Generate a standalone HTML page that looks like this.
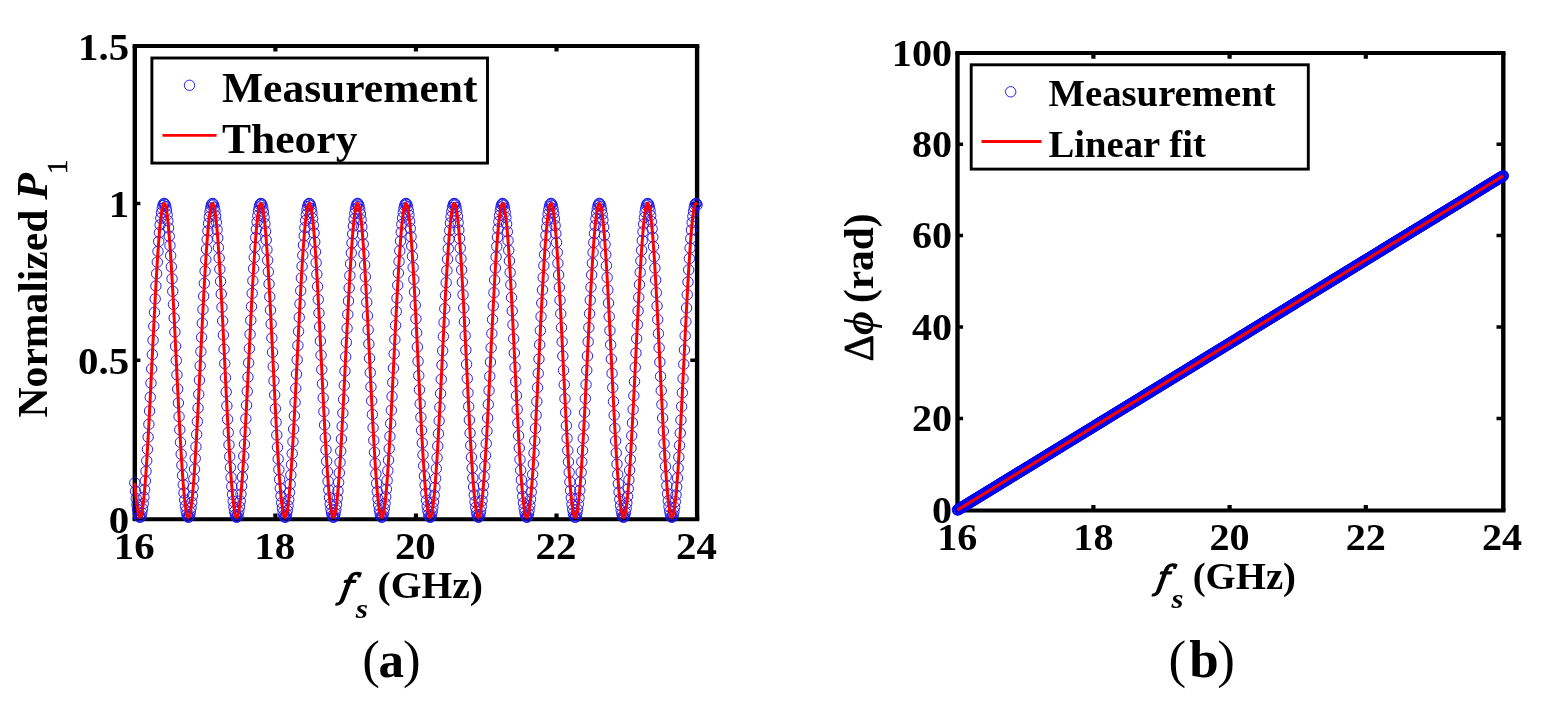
<!DOCTYPE html>
<html lang="en"><head><meta charset="utf-8"><title>Figure</title>
<style>html,body{margin:0;padding:0;background:#fff;}body{width:1554px;height:713px;overflow:hidden;}svg{display:block;}</style>
</head><body>
<svg width="1554" height="713" viewBox="0 0 1554 713" font-family='"Liberation Serif", serif' font-weight="bold" fill="#000">
<defs><marker id="mk" markerUnits="userSpaceOnUse" markerWidth="14" markerHeight="14" refX="7" refY="7" viewBox="0 0 14 14" overflow="visible"><circle cx="7" cy="7" r="5.2" fill="none" stroke="#1a14ea" stroke-width="0.95"/></marker><marker id="mkb" markerUnits="userSpaceOnUse" markerWidth="14" markerHeight="14" refX="7" refY="7" viewBox="0 0 14 14" overflow="visible"><circle cx="7" cy="7" r="5.2" fill="none" stroke="#0000f2" stroke-width="1.05"/></marker></defs>
<rect x="0" y="0" width="1554" height="713" fill="#fff"/>
<g id="plot-a">
<path d="M132.6 45.9H699.3M132.6 519.2H699.3" stroke="#000" stroke-width="4.0" fill="none"/>
<path d="M134.8 45.9V519.2M697.1 45.9V519.2" stroke="#000" stroke-width="4.4" fill="none"/>
<path d="M275.38 519.2v-5.6M275.38 45.9v5.6M415.95 519.2v-5.6M415.95 45.9v5.6M556.52 519.2v-5.6M556.52 45.9v5.6" stroke="#000" stroke-width="4.2" fill="none"/>
<path d="M134.8 360.35h5.6M697.1 360.35h-6.8M134.8 203.4h5.6M697.1 203.4h-6.8" stroke="#000" stroke-width="3.5" fill="none"/>
<polyline points="134.8,482.81 135.5,491.25 136.21,498.6 136.91,504.8 137.61,509.8 138.31,513.55 139.02,516.02 139.72,517.2 140.42,517.06 141.13,515.62 141.83,512.89 142.53,508.88 143.23,503.64 143.94,497.2 144.64,489.62 145.34,480.96 146.05,471.3 146.75,460.71 147.45,449.28 148.15,437.12 148.86,424.31 149.56,410.97 150.26,397.21 150.97,383.14 151.67,368.88 152.37,354.55 153.07,340.27 153.78,326.15 154.48,312.33 155.18,298.9 155.89,285.98 156.59,273.68 157.29,262.11 157.99,251.35 158.7,241.51 159.4,232.65 160.1,224.86 160.81,218.2 161.51,212.72 162.21,208.48 162.92,205.5 163.62,203.81 164.32,203.43 165.02,204.35 165.73,206.58 166.43,210.09 167.13,214.85 167.84,220.82 168.54,227.96 169.24,236.2 169.94,245.48 170.65,255.71 171.35,266.81 172.05,278.7 172.76,291.27 173.46,304.41 174.16,318.02 174.86,331.98 175.57,346.18 176.27,360.5 176.97,374.81 177.68,389.01 178.38,402.96 179.08,416.56 179.78,429.69 180.49,442.25 181.19,454.12 181.89,465.21 182.6,475.42 183.3,484.68 184,492.9 184.7,500.01 185.41,505.96 186.11,510.7 186.81,514.18 187.52,516.38 188.22,517.28 188.92,516.87 189.62,515.15 190.33,512.15 191.03,507.88 191.73,502.38 192.44,495.69 193.14,487.88 193.84,479 194.54,469.14 195.25,458.36 195.95,446.77 196.65,434.46 197.36,421.54 198.06,408.1 198.76,394.26 199.46,380.14 200.17,365.86 200.87,351.53 201.57,337.27 202.28,323.21 202.98,309.45 203.68,296.12 204.38,283.33 205.09,271.18 205.79,259.77 206.49,249.2 207.2,239.55 207.9,230.92 208.6,223.36 209.3,216.94 210.01,211.72 210.71,207.74 211.41,205.03 212.12,203.62 212.82,203.51 213.52,204.72 214.22,207.21 214.93,210.99 215.63,216.01 216.33,222.23 217.04,229.61 217.74,238.07 218.44,247.56 219.15,257.98 219.85,269.26 220.55,281.3 221.25,294 221.96,307.25 222.66,320.94 223.36,334.96 224.07,349.2 224.77,363.52 225.47,377.82 226.17,391.98 226.88,405.87 227.58,419.38 228.28,432.4 228.99,444.81 229.69,456.53 230.39,467.44 231.09,477.46 231.8,486.5 232.5,494.49 233.2,501.37 233.91,507.06 234.61,511.54 235.31,514.75 236.01,516.68 236.72,517.3 237.42,516.61 238.12,514.63 238.83,511.35 239.53,506.82 240.23,501.06 240.93,494.13 241.64,486.09 242.34,477 243.04,466.94 243.75,455.98 244.45,444.23 245.15,431.78 245.85,418.74 246.56,405.21 247.26,391.3 247.96,377.14 248.67,362.83 249.37,348.51 250.07,334.28 250.77,320.27 251.48,306.6 252.18,293.37 252.88,280.71 253.59,268.7 254.29,257.46 254.99,247.08 255.69,237.64 256.4,229.23 257.1,221.91 257.8,215.74 258.51,210.78 259.21,207.06 259.91,204.63 260.61,203.49 261.32,203.66 262.02,205.14 262.72,207.91 263.43,211.95 264.13,217.22 264.83,223.7 265.53,231.31 266.24,239.99 266.94,249.68 267.64,260.3 268.35,271.74 269.05,283.93 269.75,296.75 270.45,310.1 271.16,323.88 271.86,337.95 272.56,352.22 273.27,366.55 273.97,380.83 274.67,394.93 275.38,408.75 276.08,422.17 276.78,435.07 277.48,447.35 278.19,458.9 278.89,469.63 279.59,479.45 280.3,488.28 281,496.04 281.7,502.67 282.4,508.11 283.11,512.32 283.81,515.27 284.51,516.92 285.22,517.26 285.92,516.3 286.62,514.04 287.32,510.5 288.03,505.7 288.73,499.7 289.43,492.53 290.14,484.26 290.84,474.95 291.54,464.69 292.24,453.57 292.95,441.66 293.65,429.08 294.35,415.92 295.06,402.3 295.76,388.33 296.46,374.13 297.16,359.81 297.87,345.49 298.57,331.3 299.27,317.36 299.98,303.77 300.68,290.65 301.38,278.11 302.08,266.26 302.79,255.2 303.49,245.01 304.19,235.78 304.9,227.59 305.6,220.51 306.3,214.59 307,209.89 307.71,206.44 308.41,204.28 309.11,203.42 309.82,203.86 310.52,205.61 311.22,208.65 311.92,212.96 312.63,218.49 313.33,225.21 314.03,233.05 314.74,241.96 315.44,251.85 316.14,262.65 316.84,274.26 317.55,286.59 318.25,299.53 318.95,312.98 319.66,326.83 320.36,340.95 321.06,355.24 321.76,369.57 322.47,383.82 323.17,397.88 323.87,411.62 324.58,424.94 325.28,437.72 325.98,449.85 326.68,461.24 327.39,471.78 328.09,481.4 328.79,490.01 329.5,497.53 330.2,503.92 330.9,509.1 331.61,513.05 332.31,515.72 333.01,517.1 333.71,517.17 334.42,515.93 335.12,513.4 335.82,509.59 336.53,504.53 337.23,498.28 337.93,490.87 338.63,482.38 339.34,472.86 340.04,462.41 340.74,451.11 341.45,439.06 342.15,426.34 342.85,413.08 343.55,399.37 344.26,385.35 344.96,371.11 345.66,356.78 346.37,342.48 347.07,328.34 347.77,314.45 348.47,300.96 349.18,287.95 349.88,275.55 350.58,263.86 351.29,252.97 351.99,242.98 352.69,233.96 353.39,226 354.1,219.16 354.8,213.5 355.5,209.06 356.21,205.88 356.91,203.99 357.61,203.4 358.31,204.12 359.02,206.15 359.72,209.46 360.42,214.03 361.13,219.81 361.83,226.77 362.53,234.85 363.23,243.97 363.94,254.06 364.64,265.03 365.34,276.8 366.05,289.27 366.75,302.33 367.45,315.87 368.15,329.79 368.86,343.96 369.56,358.26 370.26,372.59 370.97,386.81 371.67,400.81 372.37,414.47 373.07,427.69 373.78,440.34 374.48,452.32 375.18,463.54 375.89,473.89 376.59,483.3 377.29,491.69 377.99,498.98 378.7,505.11 379.4,510.04 380.1,513.72 380.81,516.12 381.51,517.22 382.21,517.02 382.91,515.51 383.62,512.7 384.32,508.62 385.02,503.31 385.73,496.81 386.43,489.17 387.13,480.45 387.83,470.73 388.54,460.1 389.24,448.63 389.94,436.42 390.65,423.58 391.35,410.22 392.05,396.44 392.76,382.35 393.46,368.09 394.16,353.76 394.86,339.48 395.57,325.38 396.27,311.57 396.97,298.17 397.68,285.28 398.38,273.02 399.08,261.49 399.78,250.78 400.49,240.99 401.19,232.19 401.89,224.46 402.6,217.86 403.3,212.46 404,208.28 404.7,205.37 405.41,203.76 406.11,203.45 406.81,204.44 407.52,206.74 408.22,210.32 408.92,215.15 409.62,221.19 410.33,228.39 411.03,236.69 411.73,246.02 412.44,256.3 413.14,267.45 413.84,279.38 414.54,291.98 415.25,305.15 415.95,318.79 416.65,332.76 417.36,346.97 418.06,361.29 418.76,375.6 419.46,389.79 420.17,403.73 420.87,417.3 421.57,430.41 422.28,442.92 422.98,454.76 423.68,465.8 424.38,475.96 425.09,485.16 425.79,493.32 426.49,500.37 427.2,506.26 427.9,510.92 428.6,514.33 429.3,516.46 430.01,517.29 430.71,516.81 431.41,515.02 432.12,511.94 432.82,507.6 433.52,502.04 434.22,495.29 434.93,487.41 435.63,478.48 436.33,468.56 437.04,457.74 437.74,446.11 438.44,433.76 439.14,420.8 439.85,407.34 440.55,393.48 441.25,379.35 441.96,365.06 442.66,350.73 443.36,336.49 444.06,322.44 444.77,308.7 445.47,295.4 446.17,282.64 446.88,270.52 447.58,259.16 448.28,248.64 448.99,239.05 449.69,230.47 450.39,222.97 451.09,216.62 451.8,211.47 452.5,207.56 453.2,204.92 453.91,203.58 454.61,203.55 455.31,204.82 456.01,207.39 456.72,211.24 457.42,216.32 458.12,222.61 458.83,230.05 459.53,238.57 460.23,248.11 460.93,258.59 461.64,269.91 462.34,281.99 463.04,294.72 463.75,308 464.45,321.71 465.15,335.75 465.85,349.99 466.56,364.32 467.26,378.61 467.96,392.75 468.67,406.63 469.37,420.11 470.07,433.1 470.77,445.48 471.48,457.15 472.18,468.02 472.88,477.99 473.59,486.97 474.29,494.9 474.99,501.71 475.69,507.34 476.4,511.75 477.1,514.89 477.8,516.75 478.51,517.3 479.21,516.54 479.91,514.48 480.61,511.13 481.32,506.53 482.02,500.71 482.72,493.72 483.43,485.61 484.13,476.47 484.83,466.35 485.53,455.35 486.24,443.56 486.94,431.07 487.64,418 488.35,404.44 489.05,390.52 489.75,376.35 490.45,362.04 491.16,347.72 491.86,333.5 492.56,319.51 493.27,305.85 493.97,292.66 494.67,280.02 495.37,268.06 496.08,256.86 496.78,246.53 497.48,237.15 498.19,228.79 498.89,221.53 499.59,215.43 500.3,210.54 501,206.9 501.7,204.53 502.4,203.46 503.11,203.71 503.81,205.26 504.51,208.1 505.22,212.21 505.92,217.55 506.62,224.09 507.32,231.76 508.03,240.51 508.73,250.25 509.43,260.91 510.14,272.4 510.84,284.62 511.54,297.48 512.24,310.86 512.95,324.65 513.65,338.74 514.35,353.01 515.06,367.34 515.76,381.61 516.46,395.71 517.16,409.51 517.87,422.9 518.57,435.77 519.27,448.01 519.98,459.52 520.68,470.2 521.38,479.97 522.08,488.74 522.79,496.44 523.49,503 524.19,508.38 524.9,512.52 525.6,515.39 526.3,516.97 527,517.24 527.71,516.21 528.41,513.88 529.11,510.26 529.82,505.4 530.52,499.33 531.22,492.1 531.92,483.77 532.63,474.41 533.33,464.1 534.03,452.92 534.74,440.98 535.44,428.36 536.14,415.17 536.84,401.53 537.55,387.55 538.25,373.33 538.95,359.01 539.66,344.7 540.36,330.52 541.06,316.59 541.76,303.03 542.47,289.94 543.17,277.44 543.87,265.63 544.58,254.61 545.28,244.47 545.98,235.3 546.68,227.17 547.39,220.15 548.09,214.3 548.79,209.67 549.5,206.29 550.2,204.2 550.9,203.41 551.6,203.93 552.31,205.75 553.01,208.86 553.71,213.23 554.42,218.84 555.12,225.62 555.82,233.52 556.53,242.48 557.23,252.43 557.93,263.27 558.63,274.92 559.34,287.29 560.04,300.26 560.74,313.74 561.45,327.6 562.15,341.74 562.85,356.03 563.55,370.36 564.26,384.61 564.96,398.65 565.66,412.37 566.37,425.66 567.07,438.41 567.77,450.5 568.47,461.85 569.18,472.34 569.88,481.91 570.58,490.45 571.29,497.92 571.99,504.24 572.69,509.36 573.39,513.23 574.1,515.83 574.8,517.14 575.5,517.14 576.21,515.83 576.91,513.22 577.61,509.34 578.31,504.22 579.02,497.9 579.72,490.43 580.42,481.87 581.13,472.31 581.83,461.81 582.53,450.46 583.23,438.37 583.94,425.62 584.64,412.33 585.34,398.6 586.05,384.56 586.75,370.31 587.45,355.99 588.15,341.69 588.86,327.56 589.56,313.69 590.26,300.22 590.97,287.25 591.67,274.88 592.37,263.23 593.07,252.39 593.78,242.45 594.48,233.49 595.18,225.59 595.89,218.81 596.59,213.22 597.29,208.85 597.99,205.74 598.7,203.92 599.4,203.41 600.1,204.2 600.81,206.3 601.51,209.68 602.21,214.32 602.91,220.17 603.62,227.19 604.32,235.33 605.02,244.5 605.73,254.64 606.43,265.67 607.13,277.48 607.83,289.98 608.54,303.07 609.24,316.64 609.94,330.57 610.65,344.75 611.35,359.06 612.05,373.38 612.75,387.59 613.46,401.58 614.16,415.22 614.86,428.4 615.57,441.02 616.27,452.96 616.97,464.14 617.68,474.44 618.38,483.8 619.08,492.12 619.78,499.35 620.49,505.42 621.19,510.28 621.89,513.89 622.6,516.22 623.3,517.25 624,516.97 624.7,515.38 625.41,512.51 626.11,508.36 626.81,502.98 627.52,496.41 628.22,488.71 628.92,479.94 629.62,470.17 630.33,459.48 631.03,447.97 631.73,435.73 632.44,422.86 633.14,409.46 633.84,395.66 634.54,381.57 635.25,367.29 635.95,352.96 636.65,338.69 637.36,324.6 638.06,310.81 638.76,297.44 639.46,284.58 640.17,272.36 640.87,260.87 641.57,250.21 642.28,240.47 642.98,231.73 643.68,224.07 644.38,217.53 645.09,212.19 645.79,208.08 646.49,205.25 647.2,203.7 647.9,203.47 648.6,204.54 649.3,206.91 650.01,210.55 650.71,215.45 651.41,221.56 652.12,228.82 652.82,237.18 653.52,246.57 654.22,256.9 654.93,268.1 655.63,280.06 656.33,292.7 657.04,305.9 657.74,319.55 658.44,333.55 659.14,347.76 659.85,362.09 660.55,376.39 661.25,390.57 661.96,404.49 662.66,418.04 663.36,431.12 664.06,443.6 664.77,455.39 665.47,466.39 666.17,476.5 666.88,485.64 667.58,493.74 668.28,500.73 668.98,506.55 669.69,511.15 670.39,514.49 671.09,516.54 671.8,517.3 672.5,516.74 673.2,514.88 673.91,511.74 674.61,507.33 675.31,501.69 676.01,494.88 676.72,486.95 677.42,477.96 678.12,467.98 678.83,457.12 679.53,445.44 680.23,433.06 680.93,420.07 681.64,406.58 682.34,392.71 683.04,378.56 683.75,364.27 684.45,349.94 685.15,335.7 685.85,321.66 686.56,307.95 687.26,294.67 687.96,281.95 688.67,269.87 689.37,258.55 690.07,248.08 690.77,238.54 691.48,230.02 692.18,222.59 692.88,216.3 693.59,211.22 694.29,207.38 694.99,204.81 695.69,203.54 696.4,203.58 697.1,204.93" fill="none" stroke="none" marker-start="url(#mk)" marker-mid="url(#mk)" marker-end="url(#mk)"/>
<polyline points="134.8,482.81 135.2,487.76 135.6,492.37 136,496.62 136.41,500.5 136.81,503.99 137.21,507.1 137.61,509.8 138.01,512.1 138.41,513.98 138.82,515.45 139.22,516.49 139.62,517.11 140.02,517.3 140.42,517.06 140.82,516.4 141.23,515.31 141.63,513.8 142.03,511.87 142.43,509.53 142.83,506.78 143.23,503.64 143.64,500.1 144.04,496.18 144.44,491.9 144.84,487.25 145.24,482.26 145.64,476.94 146.05,471.3 146.45,465.36 146.85,459.13 147.25,452.63 147.65,445.88 148.05,438.9 148.46,431.7 148.86,424.31 149.26,416.75 149.66,409.03 150.06,401.18 150.46,393.22 150.87,385.16 151.27,377.05 151.67,368.88 152.07,360.69 152.47,352.51 152.87,344.34 153.28,336.21 153.68,328.16 154.08,320.19 154.48,312.33 154.88,304.6 155.28,297.02 155.69,289.61 156.09,282.4 156.49,275.4 156.89,268.63 157.29,262.11 157.69,255.86 158.1,249.89 158.5,244.22 158.9,238.87 159.3,233.85 159.7,229.18 160.1,224.86 160.51,220.91 160.91,217.34 161.31,214.16 161.71,211.38 162.11,209.01 162.51,207.04 162.92,205.5 163.32,204.38 163.72,203.68 164.12,203.4 164.52,203.56 164.92,204.14 165.32,205.15 165.73,206.58 166.13,208.43 166.53,210.69 166.93,213.36 167.33,216.43 167.73,219.9 168.14,223.74 168.54,227.96 168.94,232.54 169.34,237.46 169.74,242.72 170.14,248.3 170.55,254.19 170.95,260.37 171.35,266.81 171.75,273.52 172.15,280.46 172.55,287.61 172.96,294.97 173.36,302.5 173.76,310.19 174.16,318.02 174.56,325.96 174.96,334 175.37,342.1 175.77,350.26 176.17,358.45 176.57,366.64 176.97,374.81 177.37,382.94 177.78,391.02 178.18,399 178.58,406.89 178.98,414.64 179.38,422.25 179.78,429.69 180.19,436.94 180.59,443.99 180.99,450.8 181.39,457.37 181.79,463.67 182.19,469.7 182.6,475.42 183,480.83 183.4,485.92 183.8,490.66 184.2,495.05 184.6,499.07 185.01,502.71 185.41,505.96 185.81,508.82 186.21,511.27 186.61,513.31 187.01,514.94 187.42,516.14 187.82,516.92 188.22,517.28 188.62,517.2 189.02,516.7 189.42,515.78 189.83,514.43 190.23,512.66 190.63,510.47 191.03,507.88 191.43,504.88 191.83,501.49 192.23,497.72 192.64,493.57 193.04,489.06 193.44,484.2 193.84,479 194.24,473.48 194.64,467.65 195.05,461.53 195.45,455.13 195.85,448.48 196.25,441.58 196.65,434.46 197.05,427.15 197.46,419.65 197.86,411.98 198.26,404.18 198.66,396.26 199.06,388.24 199.46,380.14 199.87,371.99 200.27,363.81 200.67,355.62 201.07,347.44 201.47,339.3 201.87,331.21 202.28,323.21 202.68,315.3 203.08,307.52 203.48,299.88 203.88,292.41 204.28,285.12 204.69,278.04 205.09,271.18 205.49,264.56 205.89,258.2 206.29,252.13 206.69,246.34 207.1,240.87 207.5,235.72 207.9,230.92 208.3,226.46 208.7,222.37 209.1,218.66 209.51,215.33 209.91,212.39 210.31,209.86 210.71,207.74 211.11,206.04 211.51,204.75 211.92,203.89 212.32,203.46 212.72,203.45 213.12,203.87 213.52,204.72 213.92,205.99 214.33,207.68 214.73,209.78 215.13,212.3 215.53,215.22 215.93,218.53 216.33,222.23 216.74,226.31 217.14,230.75 217.54,235.55 217.94,240.68 218.34,246.14 218.74,251.92 219.14,257.98 219.55,264.33 219.95,270.94 220.35,277.79 220.75,284.87 221.15,292.15 221.55,299.61 221.96,307.25 222.36,315.03 222.76,322.93 223.16,330.93 223.56,339.01 223.96,347.15 224.37,355.33 224.77,363.52 225.17,371.7 225.57,379.85 225.97,387.95 226.37,395.98 226.78,403.9 227.18,411.71 227.58,419.38 227.98,426.88 228.38,434.21 228.78,441.33 229.19,448.24 229.59,454.9 229.99,461.31 230.39,467.44 230.79,473.28 231.19,478.81 231.6,484.02 232,488.9 232.4,493.42 232.8,497.58 233.2,501.37 233.6,504.77 234.01,507.78 234.41,510.39 234.81,512.59 235.21,514.37 235.61,515.73 236.01,516.68 236.42,517.19 236.82,517.28 237.22,516.94 237.62,516.18 238.02,514.99 238.42,513.38 238.83,511.35 239.23,508.91 239.63,506.07 240.03,502.83 240.43,499.2 240.83,495.19 241.24,490.82 241.64,486.09 242.04,481.02 242.44,475.62 242.84,469.91 243.24,463.89 243.65,457.6 244.05,451.04 244.45,444.23 244.85,437.2 245.25,429.95 245.65,422.52 246.06,414.92 246.46,407.17 246.86,399.29 247.26,391.3 247.66,383.23 248.06,375.1 248.46,366.93 248.87,358.74 249.27,350.55 249.67,342.39 250.07,334.28 250.47,326.24 250.87,318.3 251.28,310.47 251.68,302.77 252.08,295.23 252.48,287.87 252.88,280.71 253.28,273.76 253.69,267.05 254.09,260.59 254.49,254.41 254.89,248.51 255.29,242.92 255.69,237.64 256.1,232.71 256.5,228.11 256.9,223.88 257.3,220.03 257.7,216.55 258.1,213.46 258.51,210.78 258.91,208.5 259.31,206.64 259.71,205.19 260.11,204.17 260.51,203.57 260.92,203.4 261.32,203.66 261.72,204.34 262.12,205.45 262.52,206.98 262.92,208.93 263.33,211.29 263.73,214.06 264.13,217.22 264.53,220.78 264.93,224.71 265.33,229.02 265.74,233.68 266.14,238.69 266.54,244.03 266.94,249.68 267.34,255.64 267.74,261.88 268.15,268.39 268.55,275.15 268.95,282.15 269.35,289.35 269.75,296.75 270.15,304.32 270.56,312.05 270.96,319.91 271.36,327.87 271.76,335.93 272.16,344.05 272.56,352.22 272.97,360.4 273.37,368.59 273.77,376.76 274.17,384.88 274.57,392.93 274.97,400.9 275.38,408.75 275.78,416.48 276.18,424.05 276.58,431.44 276.98,438.65 277.38,445.64 277.78,452.39 278.19,458.9 278.59,465.14 278.99,471.09 279.39,476.74 279.79,482.08 280.19,487.08 280.6,491.74 281,496.04 281.4,499.97 281.8,503.52 282.2,506.68 282.6,509.44 283.01,511.8 283.41,513.74 283.81,515.27 284.21,516.37 284.61,517.05 285.01,517.3 285.42,517.12 285.82,516.52 286.22,515.49 286.62,514.04 287.02,512.17 287.42,509.89 287.83,507.2 288.23,504.11 288.63,500.63 289.03,496.76 289.43,492.53 289.83,487.93 290.24,482.99 290.64,477.71 291.04,472.12 291.44,466.22 291.84,460.03 292.24,453.57 292.65,446.85 293.05,439.9 293.45,432.73 293.85,425.37 294.25,417.83 294.65,410.13 295.06,402.3 295.46,394.35 295.86,386.31 296.26,378.2 296.66,370.04 297.06,361.85 297.47,353.67 297.87,345.49 298.27,337.36 298.67,329.29 299.07,321.31 299.47,313.43 299.88,305.68 300.28,298.08 300.68,290.65 301.08,283.41 301.48,276.38 301.88,269.57 302.29,263.02 302.69,256.73 303.09,250.72 303.49,245.01 303.89,239.61 304.29,234.54 304.69,229.82 305.1,225.45 305.5,221.45 305.9,217.83 306.3,214.59 306.7,211.75 307.1,209.32 307.51,207.3 307.91,205.69 308.31,204.51 308.71,203.75 309.11,203.42 309.51,203.51 309.92,204.03 310.32,204.98 310.72,206.35 311.12,208.14 311.52,210.35 311.92,212.96 312.33,215.97 312.73,219.38 313.13,223.17 313.53,227.34 313.93,231.87 314.33,236.74 314.74,241.96 315.14,247.49 315.54,253.34 315.94,259.47 316.34,265.88 316.74,272.55 317.15,279.46 317.55,286.59 317.95,293.91 318.35,301.42 318.75,309.09 319.15,316.9 319.56,324.83 319.96,332.85 320.36,340.95 320.76,349.1 321.16,357.29 321.56,365.48 321.97,373.65 322.37,381.79 322.77,389.88 323.17,397.88 323.57,405.78 323.97,413.55 324.38,421.18 324.78,428.65 325.18,435.93 325.58,443 325.98,449.85 326.38,456.46 326.79,462.8 327.19,468.86 327.59,474.63 327.99,480.09 328.39,485.22 328.79,490.01 329.2,494.45 329.6,498.52 330,502.21 330.4,505.52 330.8,508.44 331.2,510.95 331.61,513.05 332.01,514.73 332.41,516 332.81,516.84 333.21,517.25 333.61,517.24 334.01,516.8 334.42,515.93 334.82,514.64 335.22,512.93 335.62,510.81 336.02,508.27 336.42,505.33 336.83,502 337.23,498.28 337.63,494.18 338.03,489.72 338.43,484.91 338.83,479.76 339.24,474.28 339.64,468.5 340.04,462.41 340.44,456.06 340.84,449.44 341.24,442.57 341.65,435.49 342.05,428.19 342.45,420.72 342.85,413.08 343.25,405.29 343.65,397.39 344.06,389.38 344.46,381.29 344.86,373.15 345.26,364.97 345.66,356.78 346.06,348.6 346.47,340.45 346.87,332.36 347.27,324.34 347.67,316.42 348.07,308.62 348.47,300.96 348.88,293.46 349.28,286.14 349.68,279.03 350.08,272.13 350.48,265.48 350.88,259.09 351.29,252.97 351.69,247.14 352.09,241.63 352.49,236.43 352.89,231.58 353.29,227.07 353.7,222.93 354.1,219.16 354.5,215.78 354.9,212.79 355.3,210.2 355.7,208.02 356.11,206.25 356.51,204.91 356.91,203.99 357.31,203.49 357.71,203.42 358.11,203.78 358.52,204.57 358.92,205.78 359.32,207.41 359.72,209.46 360.12,211.92 360.52,214.78 360.92,218.04 361.33,221.69 361.73,225.71 362.13,230.1 362.53,234.85 362.93,239.93 363.33,245.35 363.74,251.08 364.14,257.11 364.54,263.41 364.94,269.99 365.34,276.8 365.74,283.85 366.15,291.1 366.55,298.55 366.95,306.16 367.35,313.91 367.75,321.8 368.15,329.79 368.56,337.86 368.96,346 369.36,354.17 369.76,362.36 370.16,370.55 370.56,378.7 370.97,386.81 371.37,394.84 371.77,402.79 372.17,410.61 372.57,418.3 372.97,425.83 373.38,433.18 373.78,440.34 374.18,447.27 374.58,453.97 374.98,460.42 375.38,466.59 375.79,472.47 376.19,478.05 376.59,483.3 376.99,488.23 377.39,492.8 377.79,497.01 378.2,500.85 378.6,504.31 379,507.38 379.4,510.04 379.8,512.3 380.2,514.14 380.61,515.57 381.01,516.57 381.41,517.15 381.81,517.3 382.21,517.02 382.61,516.31 383.02,515.18 383.42,513.63 383.82,511.66 384.22,509.28 384.62,506.5 385.02,503.31 385.43,499.74 385.83,495.78 386.23,491.46 386.63,486.78 387.03,481.76 387.43,476.4 387.84,470.73 388.24,464.76 388.64,458.51 389.04,451.98 389.44,445.21 389.84,438.21 390.24,430.99 390.65,423.58 391.05,416 391.45,408.27 391.85,400.41 392.25,392.44 392.65,384.38 393.06,376.25 393.46,368.09 393.86,359.9 394.26,351.71 394.66,343.55 395.06,335.43 395.47,327.38 395.87,319.42 396.27,311.57 396.67,303.85 397.07,296.29 397.47,288.9 397.88,281.71 398.28,274.73 398.68,267.98 399.08,261.49 399.48,255.26 399.88,249.33 400.29,243.69 400.69,238.37 401.09,233.38 401.49,228.74 401.89,224.46 402.29,220.55 402.7,217.02 403.1,213.88 403.5,211.13 403.9,208.8 404.3,206.88 404.7,205.37 405.11,204.29 405.51,203.63 405.91,203.4 406.31,203.6 406.71,204.22 407.11,205.27 407.52,206.74 407.92,208.63 408.32,210.93 408.72,213.64 409.12,216.75 409.52,220.25 409.93,224.13 410.33,228.39 410.73,233 411.13,237.96 411.53,243.25 411.93,248.86 412.34,254.78 412.74,260.98 413.14,267.45 413.54,274.18 413.94,281.14 414.34,288.32 414.75,295.69 415.15,303.24 415.55,310.95 415.95,318.79 416.35,326.74 416.75,334.78 417.15,342.9 417.56,351.06 417.96,359.24 418.36,367.43 418.76,375.6 419.16,383.73 419.56,391.8 419.97,399.78 420.37,407.65 420.77,415.39 421.17,422.98 421.57,430.41 421.97,437.64 422.38,444.66 422.78,451.45 423.18,457.99 423.58,464.27 423.98,470.27 424.38,475.96 424.79,481.34 425.19,486.39 425.59,491.1 425.99,495.45 426.39,499.44 426.79,503.04 427.2,506.26 427.6,509.07 428,511.49 428.4,513.49 428.8,515.07 429.2,516.24 429.61,516.98 430.01,517.29 430.41,517.17 430.81,516.63 431.21,515.66 431.61,514.27 432.02,512.46 432.42,510.24 432.82,507.6 433.22,504.57 433.62,501.14 434.02,497.33 434.43,493.15 434.83,488.6 435.23,483.71 435.63,478.48 436.03,472.93 436.43,467.07 436.84,460.92 437.24,454.5 437.64,447.82 438.04,440.9 438.44,433.76 438.84,426.43 439.25,418.91 439.65,411.23 440.05,403.42 440.45,395.48 440.85,387.46 441.25,379.35 441.66,371.2 442.06,363.02 442.46,354.83 442.86,346.65 443.26,338.51 443.66,330.43 444.06,322.44 444.47,314.54 444.87,306.77 445.27,299.15 445.67,291.69 446.07,284.42 446.47,277.36 446.88,270.52 447.28,263.93 447.68,257.6 448.08,251.55 448.48,245.8 448.88,240.36 449.29,235.24 449.69,230.47 450.09,226.05 450.49,221.99 450.89,218.32 451.29,215.03 451.7,212.13 452.1,209.64 452.5,207.56 452.9,205.89 453.3,204.65 453.7,203.83 454.11,203.44 454.51,203.47 454.91,203.93 455.31,204.82 455.71,206.13 456.11,207.86 456.52,210.01 456.92,212.56 457.32,215.52 457.72,218.87 458.12,222.61 458.52,226.73 458.93,231.2 459.33,236.03 459.73,241.2 460.13,246.69 460.53,252.49 460.93,258.59 461.34,264.96 461.74,271.59 462.14,278.47 462.54,285.56 462.94,292.86 463.34,300.35 463.75,308 464.15,315.79 464.55,323.7 464.95,331.71 465.35,339.8 465.75,347.95 466.16,356.13 466.56,364.32 466.96,372.5 467.36,380.64 467.76,388.74 468.16,396.75 468.57,404.67 468.97,412.46 469.37,420.11 469.77,427.6 470.17,434.91 470.57,442.01 470.98,448.89 471.38,455.53 471.78,461.92 472.18,468.02 472.58,473.83 472.98,479.33 473.38,484.51 473.79,489.35 474.19,493.84 474.59,497.96 474.99,501.71 475.39,505.08 475.79,508.05 476.2,510.62 476.6,512.78 477,514.52 477.4,515.84 477.8,516.75 478.2,517.22 478.61,517.27 479.01,516.89 479.41,516.08 479.81,514.85 480.21,513.2 480.61,511.13 481.02,508.65 481.42,505.77 481.82,502.49 482.22,498.83 482.62,494.79 483.02,490.38 483.43,485.61 483.83,480.51 484.23,475.08 484.63,469.33 485.03,463.29 485.43,456.97 485.84,450.39 486.24,443.56 486.64,436.5 487.04,429.24 487.44,421.79 487.84,414.17 488.25,406.41 488.65,398.51 489.05,390.52 489.45,382.44 489.85,374.31 490.25,366.13 490.66,357.94 491.06,349.76 491.46,341.6 491.86,333.5 492.26,325.47 492.66,317.53 493.07,309.71 493.47,302.03 493.87,294.51 494.27,287.17 494.67,280.02 495.07,273.1 495.48,266.41 495.88,259.98 496.28,253.82 496.68,247.95 497.08,242.39 497.48,237.15 497.89,232.24 498.29,227.69 498.69,223.49 499.09,219.67 499.49,216.23 499.89,213.19 500.29,210.54 500.7,208.3 501.1,206.48 501.5,205.07 501.9,204.09 502.3,203.54 502.7,203.41 503.11,203.71 503.51,204.43 503.91,205.58 504.31,207.15 504.71,209.14 505.11,211.54 505.52,214.35 505.92,217.55 506.32,221.15 506.72,225.12 507.12,229.46 507.52,234.15 507.93,239.19 508.33,244.56 508.73,250.25 509.13,256.23 509.53,262.5 509.93,269.04 510.34,275.82 510.74,282.84 511.14,290.06 511.54,297.48 511.94,305.07 512.34,312.81 512.75,320.68 513.15,328.65 513.55,336.71 513.95,344.84 514.35,353.01 514.75,361.2 515.16,369.39 515.56,377.55 515.96,385.66 516.36,393.71 516.76,401.67 517.16,409.51 517.57,417.22 517.97,424.77 518.37,432.15 518.77,439.34 519.17,446.3 519.57,453.04 519.98,459.52 520.38,465.73 520.78,471.65 521.18,477.28 521.58,482.58 521.98,487.55 522.39,492.17 522.79,496.44 523.19,500.33 523.59,503.84 523.99,506.97 524.39,509.69 524.8,512 525.2,513.91 525.6,515.39 526,516.45 526.4,517.09 526.8,517.3 527.21,517.08 527.61,516.44 528.01,515.37 528.41,513.88 528.81,511.97 529.21,509.64 529.61,506.92 530.02,503.79 530.42,500.27 530.82,496.37 531.22,492.1 531.62,487.47 532.02,482.49 532.43,477.18 532.83,471.56 533.23,465.63 533.63,459.41 534.03,452.92 534.43,446.19 534.84,439.21 535.24,432.03 535.64,424.65 536.04,417.09 536.44,409.38 536.84,401.53 537.25,393.57 537.65,385.53 538.05,377.41 538.45,369.25 538.85,361.06 539.25,352.87 539.66,344.7 540.06,336.58 540.46,328.51 540.86,320.54 541.26,312.67 541.66,304.94 542.07,297.35 542.47,289.94 542.87,282.72 543.27,275.71 543.67,268.93 544.07,262.39 544.48,256.13 544.88,250.15 545.28,244.47 545.68,239.1 546.08,234.07 546.48,229.38 546.89,225.05 547.29,221.08 547.69,217.49 548.09,214.3 548.49,211.5 548.89,209.11 549.3,207.12 549.7,205.56 550.1,204.42 550.5,203.7 550.9,203.41 551.3,203.54 551.71,204.11 552.11,205.09 552.51,206.51 552.91,208.34 553.31,210.58 553.71,213.23 554.12,216.29 554.52,219.73 554.92,223.56 555.32,227.76 555.72,232.32 556.12,237.24 556.53,242.48 556.93,248.05 557.33,253.92 557.73,260.09 558.13,266.52 558.53,273.21 558.93,280.14 559.34,287.29 559.74,294.64 560.14,302.16 560.54,309.85 560.94,317.67 561.34,325.6 561.75,333.64 562.15,341.74 562.55,349.9 562.95,358.08 563.35,366.27 563.75,374.45 564.16,382.58 564.56,390.66 564.96,398.65 565.36,406.54 565.76,414.3 566.16,421.92 566.57,429.37 566.97,436.63 567.37,443.68 567.77,450.5 568.17,457.08 568.57,463.4 568.98,469.44 569.38,475.17 569.78,480.6 570.18,485.7 570.58,490.45 570.98,494.86 571.39,498.89 571.79,502.55 572.19,505.82 572.59,508.7 572.99,511.17 573.39,513.23 573.8,514.88 574.2,516.1 574.6,516.9 575,517.27 575.4,517.22 575.8,516.73 576.21,515.83 576.61,514.49 577.01,512.74 577.41,510.58 577.81,508 578.21,505.02 578.62,501.65 579.02,497.9 579.42,493.77 579.82,489.27 580.22,484.43 580.62,479.24 581.03,473.73 581.43,467.92 581.83,461.81 582.23,455.42 582.63,448.78 583.03,441.89 583.44,434.79 583.84,427.48 584.24,419.98 584.64,412.33 585.04,404.53 585.44,396.61 585.84,388.6 586.25,380.51 586.65,372.36 587.05,364.18 587.45,355.99 587.85,347.81 588.25,339.66 588.66,331.57 589.06,323.56 589.46,315.65 589.86,307.86 590.26,300.22 590.66,292.74 591.07,285.44 591.47,278.35 591.87,271.48 592.27,264.85 592.67,258.48 593.07,252.39 593.48,246.59 593.88,241.11 594.28,235.95 594.68,231.12 595.08,226.65 595.48,222.55 595.89,218.81 596.29,215.47 596.69,212.52 597.09,209.97 597.49,207.83 597.89,206.11 598.3,204.8 598.7,203.92 599.1,203.47 599.5,203.44 599.9,203.84 600.3,204.67 600.71,205.92 601.11,207.59 601.51,209.68 601.91,212.18 602.31,215.08 602.71,218.38 603.12,222.06 603.52,226.12 603.92,230.55 604.32,235.33 604.72,240.45 605.12,245.89 605.53,251.65 605.93,257.71 606.33,264.04 606.73,270.64 607.13,277.48 607.53,284.54 607.94,291.82 608.34,299.28 608.74,306.9 609.14,314.68 609.54,322.57 609.94,330.57 610.35,338.65 610.75,346.79 611.15,354.97 611.55,363.16 611.95,371.34 612.35,379.49 612.75,387.59 613.16,395.62 613.56,403.55 613.96,411.36 614.36,419.04 614.76,426.55 615.16,433.89 615.57,441.02 615.97,447.93 616.37,454.61 616.77,461.03 617.17,467.17 617.57,473.03 617.98,478.57 618.38,483.8 618.78,488.69 619.18,493.22 619.58,497.4 619.98,501.21 620.39,504.63 620.79,507.65 621.19,510.28 621.59,512.5 621.99,514.3 622.39,515.68 622.8,516.64 623.2,517.18 623.6,517.29 624,516.97 624.4,516.22 624.8,515.05 625.21,513.46 625.61,511.45 626.01,509.03 626.41,506.2 626.81,502.98 627.21,499.37 627.62,495.38 628.02,491.02 628.42,486.31 628.82,481.25 629.22,475.87 629.62,470.17 630.03,464.17 630.43,457.89 630.83,451.34 631.23,444.54 631.63,437.52 632.03,430.28 632.44,422.86 632.84,415.26 633.24,407.51 633.64,399.64 634.04,391.66 634.44,383.59 634.85,375.46 635.25,367.29 635.65,359.1 636.05,350.92 636.45,342.76 636.85,334.64 637.26,326.6 637.66,318.65 638.06,310.81 638.46,303.11 638.86,295.56 639.26,288.19 639.67,281.02 640.07,274.06 640.47,267.34 640.87,260.87 641.27,254.68 641.67,248.77 642.07,243.16 642.48,237.87 642.88,232.92 643.28,228.31 643.68,224.07 644.08,220.19 644.48,216.7 644.89,213.59 645.29,210.89 645.69,208.59 646.09,206.71 646.49,205.25 646.89,204.21 647.3,203.59 647.7,203.4 648.1,203.64 648.5,204.3 648.9,205.39 649.3,206.91 649.71,208.84 650.11,211.18 650.51,213.93 650.91,217.07 651.31,220.61 651.71,224.53 652.12,228.82 652.52,233.47 652.92,238.46 653.32,243.78 653.72,249.42 654.12,255.37 654.53,261.6 654.93,268.1 655.33,274.85 655.73,281.83 656.13,289.03 656.53,296.42 656.94,303.98 657.34,311.7 657.74,319.55 658.14,327.51 658.54,335.57 658.94,343.69 659.35,351.85 659.75,360.04 660.15,368.23 660.55,376.39 660.95,384.52 661.35,392.58 661.76,400.54 662.16,408.41 662.56,416.13 662.96,423.71 663.36,431.12 663.76,438.33 664.17,445.33 664.57,452.1 664.97,458.62 665.37,464.87 665.77,470.83 666.17,476.5 666.58,481.85 666.98,486.87 667.38,491.54 667.78,495.86 668.18,499.8 668.58,503.37 668.98,506.55 669.39,509.33 669.79,511.7 670.19,513.66 670.59,515.21 670.99,516.33 671.39,517.03 671.8,517.3 672.2,517.14 672.6,516.56 673,515.55 673.4,514.11 673.8,512.26 674.21,510 674.61,507.33 675.01,504.25 675.41,500.79 675.81,496.94 676.21,492.72 676.62,488.14 677.02,483.22 677.42,477.96 677.82,472.37 678.22,466.49 678.62,460.31 679.03,453.86 679.43,447.16 679.83,440.22 680.23,433.06 680.63,425.7 681.03,418.17 681.44,410.48 681.84,402.65 682.24,394.71 682.64,386.67 683.04,378.56 683.44,370.41 683.85,362.22 684.25,354.03 684.65,345.86 685.05,337.72 685.45,329.65 685.85,321.66 686.26,313.78 686.66,306.03 687.06,298.42 687.46,290.98 687.86,283.73 688.26,276.69 688.67,269.87 689.07,263.3 689.47,257 689.87,250.98 690.27,245.26 690.67,239.85 691.08,234.76 691.48,230.02 691.88,225.64 692.28,221.62 692.68,217.98 693.08,214.73 693.49,211.87 693.89,209.42 694.29,207.38 694.69,205.76 695.09,204.55 695.49,203.77 695.9,203.42 696.3,203.5 696.7,204 697.1,204.93" fill="none" stroke="#ff0000" stroke-width="3.0" stroke-linejoin="round"/>
<text transform="translate(134.2,558.5) scale(1.06,1)" font-size="38.6" text-anchor="middle">16</text>
<text transform="translate(274.77,558.5) scale(1.06,1)" font-size="38.6" text-anchor="middle">18</text>
<text transform="translate(415.35,558.5) scale(1.06,1)" font-size="38.6" text-anchor="middle">20</text>
<text transform="translate(555.92,558.5) scale(1.06,1)" font-size="38.6" text-anchor="middle">22</text>
<text transform="translate(696.5,558.5) scale(1.06,1)" font-size="38.6" text-anchor="middle">24</text>
<text transform="translate(129.2,532.8) scale(1.06,1)" font-size="38.6" text-anchor="end">0</text>
<text transform="translate(129.2,373.9) scale(1.06,1)" font-size="38.6" text-anchor="end">0.5</text>
<text transform="translate(129.2,216.7) scale(1.06,1)" font-size="38.6" text-anchor="end">1</text>
<text transform="translate(129.2,59.8) scale(1.06,1)" font-size="38.6" text-anchor="end">1.5</text>
<g id="xl379">
<text transform="translate(339.3,598) skewX(-10)" font-family='"DejaVu Serif", "Liberation Serif", serif' font-weight="normal" font-style="italic" font-size="33.6" stroke="#000" stroke-width="1.6" stroke-linejoin="round">f</text>
<text transform="translate(355.7,617.6) scale(1.15,1)" font-style="italic" font-size="27.5">s</text>
<text transform="translate(377.56,598) scale(1.025,1)" font-size="38.6">(GHz)</text>
</g>
<text transform="translate(46.5,417.4) rotate(-90) scale(0.985,1)" font-size="42.2">Normalized <tspan font-style="italic" font-size="44.5" dx="-0.4">P</tspan><tspan font-weight="normal" font-size="30" dy="20.7" dx="-1.5" stroke="#000" stroke-width="0.5">1</tspan></text>
<rect x="151.9" y="58" width="335.6" height="105.1" fill="#fff" stroke="#000" stroke-width="2.9"/>
<circle cx="189.5" cy="85.3" r="5.2" fill="none" stroke="#1a14ea" stroke-width="0.95"/>
<path d="M162.5 135.3H216.6" stroke="#ff0000" stroke-width="2.8" fill="none"/>
<text transform="translate(222,101.9) scale(1.022,1)" font-size="42.6">Measurement</text>
<text transform="translate(222,152.7) scale(1.022,1)" font-size="42.6">Theory</text>
</g>
<g id="plot-b">
<path d="M955.3 53.1H1505.5M955.3 510.5H1505.5" stroke="#000" stroke-width="4.0" fill="none"/>
<path d="M957.5 53.1V510.5M1503.3 53.1V510.5" stroke="#000" stroke-width="4.4" fill="none"/>
<path d="M1093.4 510.5v-5.6M1093.4 53.1v5.6M1229.6 510.5v-5.6M1229.6 53.1v5.6M1365.8 510.5v-5.6M1365.8 53.1v5.6" stroke="#000" stroke-width="4.2" fill="none"/>
<path d="M957.5 418.54h5.6M1503.3 418.54h-6.8M957.5 327.08h5.6M1503.3 327.08h-6.8M957.5 235.62h5.6M1503.3 235.62h-6.8M957.5 144.16h5.6M1503.3 144.16h-6.8" stroke="#000" stroke-width="3.5" fill="none"/>
<polyline points="957.5,510 958.18,509.58 958.86,509.16 959.55,508.75 960.23,508.33 960.91,507.91 961.59,507.49 962.28,507.07 962.96,506.66 963.64,506.24 964.32,505.82 965,505.4 965.69,504.99 966.37,504.57 967.05,504.15 967.73,503.73 968.42,503.31 969.1,502.9 969.78,502.48 970.46,502.06 971.14,501.64 971.83,501.22 972.51,500.81 973.19,500.39 973.87,499.97 974.56,499.55 975.24,499.14 975.92,498.72 976.6,498.3 977.29,497.88 977.97,497.46 978.65,497.05 979.33,496.63 980.01,496.21 980.7,495.79 981.38,495.37 982.06,494.96 982.74,494.54 983.43,494.12 984.11,493.7 984.79,493.29 985.47,492.87 986.15,492.45 986.84,492.03 987.52,491.61 988.2,491.2 988.88,490.78 989.57,490.36 990.25,489.94 990.93,489.52 991.61,489.11 992.29,488.69 992.98,488.27 993.66,487.85 994.34,487.44 995.02,487.02 995.71,486.6 996.39,486.18 997.07,485.76 997.75,485.35 998.43,484.93 999.12,484.51 999.8,484.09 1000.48,483.67 1001.16,483.26 1001.85,482.84 1002.53,482.42 1003.21,482 1003.89,481.59 1004.58,481.17 1005.26,480.75 1005.94,480.33 1006.62,479.91 1007.3,479.5 1007.99,479.08 1008.67,478.66 1009.35,478.24 1010.03,477.82 1010.72,477.41 1011.4,476.99 1012.08,476.57 1012.76,476.15 1013.44,475.74 1014.13,475.32 1014.81,474.9 1015.49,474.48 1016.17,474.06 1016.86,473.65 1017.54,473.23 1018.22,472.81 1018.9,472.39 1019.58,471.97 1020.27,471.56 1020.95,471.14 1021.63,470.72 1022.31,470.3 1023,469.89 1023.68,469.47 1024.36,469.05 1025.04,468.63 1025.72,468.21 1026.41,467.8 1027.09,467.38 1027.77,466.96 1028.45,466.54 1029.14,466.12 1029.82,465.71 1030.5,465.29 1031.18,464.87 1031.87,464.45 1032.55,464.04 1033.23,463.62 1033.91,463.2 1034.59,462.78 1035.28,462.36 1035.96,461.95 1036.64,461.53 1037.32,461.11 1038.01,460.69 1038.69,460.27 1039.37,459.86 1040.05,459.44 1040.73,459.02 1041.42,458.6 1042.1,458.19 1042.78,457.77 1043.46,457.35 1044.15,456.93 1044.83,456.51 1045.51,456.1 1046.19,455.68 1046.87,455.26 1047.56,454.84 1048.24,454.42 1048.92,454.01 1049.6,453.59 1050.29,453.17 1050.97,452.75 1051.65,452.34 1052.33,451.92 1053.02,451.5 1053.7,451.08 1054.38,450.66 1055.06,450.25 1055.74,449.83 1056.43,449.41 1057.11,448.99 1057.79,448.57 1058.47,448.16 1059.16,447.74 1059.84,447.32 1060.52,446.9 1061.2,446.49 1061.88,446.07 1062.57,445.65 1063.25,445.23 1063.93,444.81 1064.61,444.4 1065.3,443.98 1065.98,443.56 1066.66,443.14 1067.34,442.72 1068.02,442.31 1068.71,441.89 1069.39,441.47 1070.07,441.05 1070.75,440.64 1071.44,440.22 1072.12,439.8 1072.8,439.38 1073.48,438.96 1074.16,438.55 1074.85,438.13 1075.53,437.71 1076.21,437.29 1076.89,436.87 1077.58,436.46 1078.26,436.04 1078.94,435.62 1079.62,435.2 1080.31,434.79 1080.99,434.37 1081.67,433.95 1082.35,433.53 1083.03,433.11 1083.72,432.7 1084.4,432.28 1085.08,431.86 1085.76,431.44 1086.45,431.02 1087.13,430.61 1087.81,430.19 1088.49,429.77 1089.17,429.35 1089.86,428.94 1090.54,428.52 1091.22,428.1 1091.9,427.68 1092.59,427.26 1093.27,426.85 1093.95,426.43 1094.63,426.01 1095.31,425.59 1096,425.17 1096.68,424.76 1097.36,424.34 1098.04,423.92 1098.73,423.5 1099.41,423.09 1100.09,422.67 1100.77,422.25 1101.45,421.83 1102.14,421.41 1102.82,421 1103.5,420.58 1104.18,420.16 1104.87,419.74 1105.55,419.32 1106.23,418.91 1106.91,418.49 1107.6,418.07 1108.28,417.65 1108.96,417.24 1109.64,416.82 1110.32,416.4 1111.01,415.98 1111.69,415.56 1112.37,415.15 1113.05,414.73 1113.74,414.31 1114.42,413.89 1115.1,413.47 1115.78,413.06 1116.46,412.64 1117.15,412.22 1117.83,411.8 1118.51,411.39 1119.19,410.97 1119.88,410.55 1120.56,410.13 1121.24,409.71 1121.92,409.3 1122.6,408.88 1123.29,408.46 1123.97,408.04 1124.65,407.62 1125.33,407.21 1126.02,406.79 1126.7,406.37 1127.38,405.95 1128.06,405.54 1128.74,405.12 1129.43,404.7 1130.11,404.28 1130.79,403.86 1131.47,403.45 1132.16,403.03 1132.84,402.61 1133.52,402.19 1134.2,401.77 1134.88,401.36 1135.57,400.94 1136.25,400.52 1136.93,400.1 1137.61,399.69 1138.3,399.27 1138.98,398.85 1139.66,398.43 1140.34,398.01 1141.03,397.6 1141.71,397.18 1142.39,396.76 1143.07,396.34 1143.75,395.92 1144.44,395.51 1145.12,395.09 1145.8,394.67 1146.48,394.25 1147.17,393.84 1147.85,393.42 1148.53,393 1149.21,392.58 1149.89,392.16 1150.58,391.75 1151.26,391.33 1151.94,390.91 1152.62,390.49 1153.31,390.07 1153.99,389.66 1154.67,389.24 1155.35,388.82 1156.03,388.4 1156.72,387.99 1157.4,387.57 1158.08,387.15 1158.76,386.73 1159.45,386.31 1160.13,385.9 1160.81,385.48 1161.49,385.06 1162.17,384.64 1162.86,384.22 1163.54,383.81 1164.22,383.39 1164.9,382.97 1165.59,382.55 1166.27,382.14 1166.95,381.72 1167.63,381.3 1168.32,380.88 1169,380.46 1169.68,380.05 1170.36,379.63 1171.04,379.21 1171.73,378.79 1172.41,378.37 1173.09,377.96 1173.77,377.54 1174.46,377.12 1175.14,376.7 1175.82,376.29 1176.5,375.87 1177.18,375.45 1177.87,375.03 1178.55,374.61 1179.23,374.2 1179.91,373.78 1180.6,373.36 1181.28,372.94 1181.96,372.52 1182.64,372.11 1183.32,371.69 1184.01,371.27 1184.69,370.85 1185.37,370.44 1186.05,370.02 1186.74,369.6 1187.42,369.18 1188.1,368.76 1188.78,368.35 1189.46,367.93 1190.15,367.51 1190.83,367.09 1191.51,366.67 1192.19,366.26 1192.88,365.84 1193.56,365.42 1194.24,365 1194.92,364.59 1195.61,364.17 1196.29,363.75 1196.97,363.33 1197.65,362.91 1198.33,362.5 1199.02,362.08 1199.7,361.66 1200.38,361.24 1201.06,360.82 1201.75,360.41 1202.43,359.99 1203.11,359.57 1203.79,359.15 1204.47,358.74 1205.16,358.32 1205.84,357.9 1206.52,357.48 1207.2,357.06 1207.89,356.65 1208.57,356.23 1209.25,355.81 1209.93,355.39 1210.61,354.97 1211.3,354.56 1211.98,354.14 1212.66,353.72 1213.34,353.3 1214.03,352.89 1214.71,352.47 1215.39,352.05 1216.07,351.63 1216.75,351.21 1217.44,350.8 1218.12,350.38 1218.8,349.96 1219.48,349.54 1220.17,349.12 1220.85,348.71 1221.53,348.29 1222.21,347.87 1222.9,347.45 1223.58,347.04 1224.26,346.62 1224.94,346.2 1225.62,345.78 1226.31,345.36 1226.99,344.95 1227.67,344.53 1228.35,344.11 1229.04,343.69 1229.72,343.27 1230.4,342.86 1231.08,342.44 1231.76,342.02 1232.45,341.6 1233.13,341.19 1233.81,340.77 1234.49,340.35 1235.18,339.93 1235.86,339.51 1236.54,339.1 1237.22,338.68 1237.9,338.26 1238.59,337.84 1239.27,337.42 1239.95,337.01 1240.63,336.59 1241.32,336.17 1242,335.75 1242.68,335.34 1243.36,334.92 1244.05,334.5 1244.73,334.08 1245.41,333.66 1246.09,333.25 1246.77,332.83 1247.46,332.41 1248.14,331.99 1248.82,331.57 1249.5,331.16 1250.19,330.74 1250.87,330.32 1251.55,329.9 1252.23,329.49 1252.91,329.07 1253.6,328.65 1254.28,328.23 1254.96,327.81 1255.64,327.4 1256.33,326.98 1257.01,326.56 1257.69,326.14 1258.37,325.72 1259.05,325.31 1259.74,324.89 1260.42,324.47 1261.1,324.05 1261.78,323.64 1262.47,323.22 1263.15,322.8 1263.83,322.38 1264.51,321.96 1265.19,321.55 1265.88,321.13 1266.56,320.71 1267.24,320.29 1267.92,319.87 1268.61,319.46 1269.29,319.04 1269.97,318.62 1270.65,318.2 1271.34,317.79 1272.02,317.37 1272.7,316.95 1273.38,316.53 1274.06,316.11 1274.75,315.7 1275.43,315.28 1276.11,314.86 1276.79,314.44 1277.48,314.02 1278.16,313.61 1278.84,313.19 1279.52,312.77 1280.2,312.35 1280.89,311.94 1281.57,311.52 1282.25,311.1 1282.93,310.68 1283.62,310.26 1284.3,309.85 1284.98,309.43 1285.66,309.01 1286.34,308.59 1287.03,308.17 1287.71,307.76 1288.39,307.34 1289.07,306.92 1289.76,306.5 1290.44,306.09 1291.12,305.67 1291.8,305.25 1292.48,304.83 1293.17,304.41 1293.85,304 1294.53,303.58 1295.21,303.16 1295.9,302.74 1296.58,302.32 1297.26,301.91 1297.94,301.49 1298.62,301.07 1299.31,300.65 1299.99,300.24 1300.67,299.82 1301.35,299.4 1302.04,298.98 1302.72,298.56 1303.4,298.15 1304.08,297.73 1304.77,297.31 1305.45,296.89 1306.13,296.47 1306.81,296.06 1307.49,295.64 1308.18,295.22 1308.86,294.8 1309.54,294.39 1310.22,293.97 1310.91,293.55 1311.59,293.13 1312.27,292.71 1312.95,292.3 1313.63,291.88 1314.32,291.46 1315,291.04 1315.68,290.62 1316.36,290.21 1317.05,289.79 1317.73,289.37 1318.41,288.95 1319.09,288.54 1319.77,288.12 1320.46,287.7 1321.14,287.28 1321.82,286.86 1322.5,286.45 1323.19,286.03 1323.87,285.61 1324.55,285.19 1325.23,284.77 1325.91,284.36 1326.6,283.94 1327.28,283.52 1327.96,283.1 1328.64,282.69 1329.33,282.27 1330.01,281.85 1330.69,281.43 1331.37,281.01 1332.06,280.6 1332.74,280.18 1333.42,279.76 1334.1,279.34 1334.78,278.92 1335.47,278.51 1336.15,278.09 1336.83,277.67 1337.51,277.25 1338.2,276.84 1338.88,276.42 1339.56,276 1340.24,275.58 1340.92,275.16 1341.61,274.75 1342.29,274.33 1342.97,273.91 1343.65,273.49 1344.34,273.07 1345.02,272.66 1345.7,272.24 1346.38,271.82 1347.06,271.4 1347.75,270.99 1348.43,270.57 1349.11,270.15 1349.79,269.73 1350.48,269.31 1351.16,268.9 1351.84,268.48 1352.52,268.06 1353.2,267.64 1353.89,267.22 1354.57,266.81 1355.25,266.39 1355.93,265.97 1356.62,265.55 1357.3,265.14 1357.98,264.72 1358.66,264.3 1359.35,263.88 1360.03,263.46 1360.71,263.05 1361.39,262.63 1362.07,262.21 1362.76,261.79 1363.44,261.37 1364.12,260.96 1364.8,260.54 1365.49,260.12 1366.17,259.7 1366.85,259.29 1367.53,258.87 1368.21,258.45 1368.9,258.03 1369.58,257.61 1370.26,257.2 1370.94,256.78 1371.63,256.36 1372.31,255.94 1372.99,255.52 1373.67,255.11 1374.35,254.69 1375.04,254.27 1375.72,253.85 1376.4,253.44 1377.08,253.02 1377.77,252.6 1378.45,252.18 1379.13,251.76 1379.81,251.35 1380.49,250.93 1381.18,250.51 1381.86,250.09 1382.54,249.67 1383.22,249.26 1383.91,248.84 1384.59,248.42 1385.27,248 1385.95,247.59 1386.64,247.17 1387.32,246.75 1388,246.33 1388.68,245.91 1389.36,245.5 1390.05,245.08 1390.73,244.66 1391.41,244.24 1392.09,243.82 1392.78,243.41 1393.46,242.99 1394.14,242.57 1394.82,242.15 1395.5,241.74 1396.19,241.32 1396.87,240.9 1397.55,240.48 1398.23,240.06 1398.92,239.65 1399.6,239.23 1400.28,238.81 1400.96,238.39 1401.64,237.97 1402.33,237.56 1403.01,237.14 1403.69,236.72 1404.37,236.3 1405.06,235.89 1405.74,235.47 1406.42,235.05 1407.1,234.63 1407.78,234.21 1408.47,233.8 1409.15,233.38 1409.83,232.96 1410.51,232.54 1411.2,232.12 1411.88,231.71 1412.56,231.29 1413.24,230.87 1413.93,230.45 1414.61,230.04 1415.29,229.62 1415.97,229.2 1416.65,228.78 1417.34,228.36 1418.02,227.95 1418.7,227.53 1419.38,227.11 1420.07,226.69 1420.75,226.27 1421.43,225.86 1422.11,225.44 1422.79,225.02 1423.48,224.6 1424.16,224.19 1424.84,223.77 1425.52,223.35 1426.21,222.93 1426.89,222.51 1427.57,222.1 1428.25,221.68 1428.93,221.26 1429.62,220.84 1430.3,220.42 1430.98,220.01 1431.66,219.59 1432.35,219.17 1433.03,218.75 1433.71,218.34 1434.39,217.92 1435.07,217.5 1435.76,217.08 1436.44,216.66 1437.12,216.25 1437.8,215.83 1438.49,215.41 1439.17,214.99 1439.85,214.57 1440.53,214.16 1441.22,213.74 1441.9,213.32 1442.58,212.9 1443.26,212.49 1443.94,212.07 1444.63,211.65 1445.31,211.23 1445.99,210.81 1446.67,210.4 1447.36,209.98 1448.04,209.56 1448.72,209.14 1449.4,208.72 1450.08,208.31 1450.77,207.89 1451.45,207.47 1452.13,207.05 1452.81,206.64 1453.5,206.22 1454.18,205.8 1454.86,205.38 1455.54,204.96 1456.22,204.55 1456.91,204.13 1457.59,203.71 1458.27,203.29 1458.95,202.87 1459.64,202.46 1460.32,202.04 1461,201.62 1461.68,201.2 1462.37,200.79 1463.05,200.37 1463.73,199.95 1464.41,199.53 1465.09,199.11 1465.78,198.7 1466.46,198.28 1467.14,197.86 1467.82,197.44 1468.51,197.02 1469.19,196.61 1469.87,196.19 1470.55,195.77 1471.23,195.35 1471.92,194.94 1472.6,194.52 1473.28,194.1 1473.96,193.68 1474.65,193.26 1475.33,192.85 1476.01,192.43 1476.69,192.01 1477.37,191.59 1478.06,191.17 1478.74,190.76 1479.42,190.34 1480.1,189.92 1480.79,189.5 1481.47,189.09 1482.15,188.67 1482.83,188.25 1483.51,187.83 1484.2,187.41 1484.88,187 1485.56,186.58 1486.24,186.16 1486.93,185.74 1487.61,185.32 1488.29,184.91 1488.97,184.49 1489.65,184.07 1490.34,183.65 1491.02,183.24 1491.7,182.82 1492.38,182.4 1493.07,181.98 1493.75,181.56 1494.43,181.15 1495.11,180.73 1495.8,180.31 1496.48,179.89 1497.16,179.47 1497.84,179.06 1498.52,178.64 1499.21,178.22 1499.89,177.8 1500.57,177.39 1501.25,176.97 1501.94,176.55 1502.62,176.13 1503.3,175.71" fill="none" stroke="none" marker-start="url(#mkb)" marker-mid="url(#mkb)" marker-end="url(#mkb)"/>
<path d="M957.5 510L1503.3 175.71" stroke="#ff0000" stroke-width="3.0" fill="none"/>
<text transform="translate(957.2,550.2) scale(1.05,1)" font-size="38.2" text-anchor="middle">16</text>
<text transform="translate(1093.4,550.2) scale(1.05,1)" font-size="38.2" text-anchor="middle">18</text>
<text transform="translate(1229.6,550.2) scale(1.05,1)" font-size="38.2" text-anchor="middle">20</text>
<text transform="translate(1365.8,550.2) scale(1.05,1)" font-size="38.2" text-anchor="middle">22</text>
<text transform="translate(1502,550.2) scale(1.05,1)" font-size="38.2" text-anchor="middle">24</text>
<text transform="translate(952,522.8) scale(1.05,1)" font-size="38.2" text-anchor="end">0</text>
<text transform="translate(952,431.34) scale(1.05,1)" font-size="38.2" text-anchor="end">20</text>
<text transform="translate(952,339.88) scale(1.05,1)" font-size="38.2" text-anchor="end">40</text>
<text transform="translate(952,248.42) scale(1.05,1)" font-size="38.2" text-anchor="end">60</text>
<text transform="translate(952,156.96) scale(1.05,1)" font-size="38.2" text-anchor="end">80</text>
<text transform="translate(952,65.5) scale(1.05,1)" font-size="38.2" text-anchor="end">100</text>
<g id="xl1194">
<text transform="translate(1155.4,588.5) skewX(-10)" font-family='"DejaVu Serif", "Liberation Serif", serif' font-weight="normal" font-style="italic" font-size="32.76" stroke="#000" stroke-width="1.56" stroke-linejoin="round">f</text>
<text transform="translate(1171.39,607.61) scale(1.15,1)" font-style="italic" font-size="26.81">s</text>
<text transform="translate(1192.69,588.5) scale(1.02,1)" font-size="38.0">(GHz)</text>
</g>
<text transform="translate(873,361.5) rotate(-90)" font-size="41.4"><tspan font-weight="normal" stroke="#000" stroke-width="0.7">Δ</tspan><tspan font-style="italic">ϕ</tspan><tspan dx="-2.5"> (rad)</tspan></text>
<rect x="971.2" y="64.8" width="337.1" height="104.3" fill="#fff" stroke="#000" stroke-width="2.9"/>
<circle cx="1010.7" cy="91.8" r="5.2" fill="none" stroke="#1a14ea" stroke-width="0.95"/>
<path d="M981.5 141.5H1041.5" stroke="#ff0000" stroke-width="2.8" fill="none"/>
<text transform="translate(1048.5,106.3) scale(1.008,1)" font-size="38.4">Measurement</text>
<text transform="translate(1048.5,157) scale(1.008,1)" font-size="38.4">Linear fit</text>
</g>
<text y="677.2" font-size="53"><tspan font-weight="normal" x="362.2">(</tspan><tspan x="378.6" font-size="51">a</tspan><tspan font-weight="normal" x="402.9">)</tspan></text>
<text y="677.2" font-size="53"><tspan font-weight="normal" x="1168.4">(</tspan><tspan x="1189.2">b</tspan><tspan font-weight="normal" x="1217.3">)</tspan></text>
</svg>
</body></html>
